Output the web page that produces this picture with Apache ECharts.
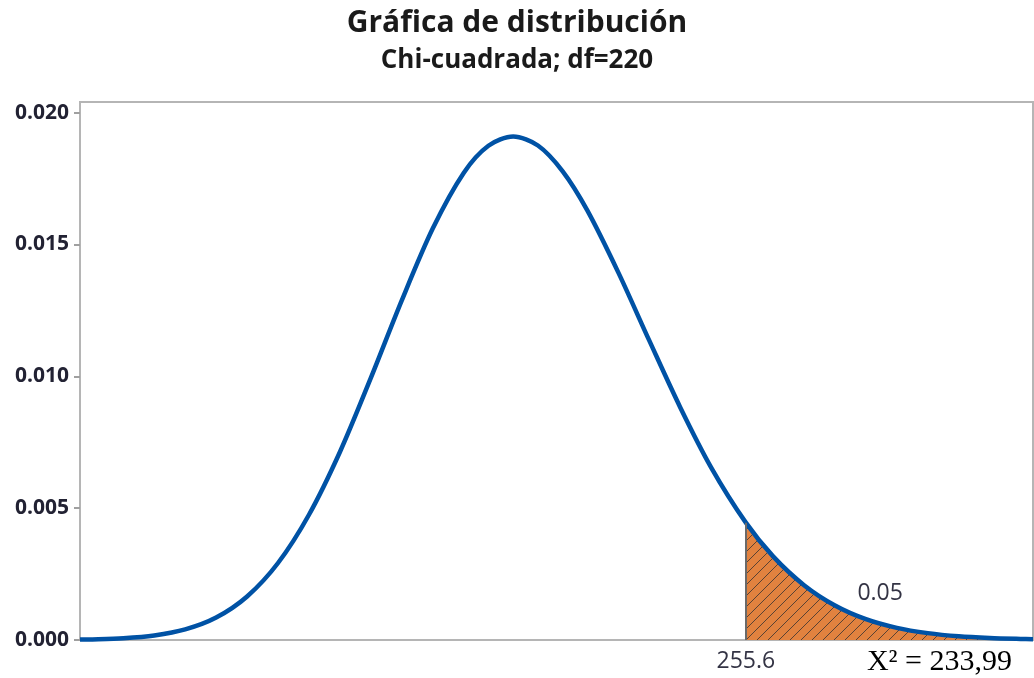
<!DOCTYPE html>
<html lang="es">
<head>
  <meta charset="UTF-8">
  <script src="https://cdn.jsdelivr.net/npm/echarts@6/dist/echarts.min.js"></script>
  <title>Gráfica de distribución</title>
</head>
<body style="margin:0;background:#fff;">
  <div id="main" style="width:1034px;height:678px;"></div>
  <script type="text/javascript">
    // valores (chi-cuadrada, df=220)
    var curveX = [148, 150, 155, 160, 165, 170, 175, 180, 185, 190,
                  195, 200, 205, 210, 214, 218, 222, 226, 230, 235,
                  240, 245, 250, 255.6, 260, 265, 270, 275, 280, 285,
                  290, 295, 300, 302];
    var curveY = [0.000015, 0.000022, 0.000065, 0.00017, 0.00040, 0.00085, 0.00165, 0.00292, 0.00475, 0.00713,
                  0.00994, 0.01288, 0.01560, 0.01771, 0.01874, 0.01909, 0.01875, 0.01777, 0.01628, 0.01393,
                  0.01135, 0.00882, 0.00654, 0.00445, 0.00317, 0.00208, 0.00131, 0.00079, 0.00046, 0.00026,
                  0.00014, 0.000076, 0.000039, 0.00003];
    var critical = 255.6;
    var tailArea = '0.05';
    var yTicks = [0, 0.005, 0.010, 0.015, 0.020];

    var curve = curveX.map(function (x, i) { return [x, curveY[i]]; });
    var tail = curve.filter(function (p) { return p[0] >= critical; });
    var critY = curveY[curveX.indexOf(critical)];

    // trama rayada para la cola
    var pat = document.createElement('canvas');
    pat.width = 11; pat.height = 11;
    var g = pat.getContext('2d');
    g.fillStyle = '#E2823F';
    g.fillRect(0, 0, 11, 11);
    g.strokeStyle = 'rgba(65,55,50,0.85)';
    g.lineWidth = 1;
    g.beginPath();
    g.moveTo(-1, 12); g.lineTo(12, -1);
    g.moveTo(-6, 6); g.lineTo(6, -6);
    g.moveTo(5, 17); g.lineTo(17, 5);
    g.stroke();

    var myChart = echarts.init(document.getElementById('main'));
    var font = "'Segoe UI', 'Open Sans', 'Noto Sans', sans-serif";

    var option = {
      animation: false,
      title: [
        { text: 'Gráfica de distribución', left: 512, top: 3, textAlign: 'center',
          textStyle: { fontFamily: font, fontSize: 30, fontWeight: 'bold', color: '#1a1a1a' } },
        { text: 'Chi-cuadrada; df=220', left: 512, top: 43, textAlign: 'center',
          textStyle: { fontFamily: font, fontSize: 26, fontWeight: 'bold', color: '#1a1a1a' } }
      ],
      grid: { left: 80, top: 102, right: 1, bottom: 38, show: true,
              borderColor: '#b5b5b5', borderWidth: 2, backgroundColor: '#fff' },
      xAxis: {
        type: 'value', min: 148, max: 302,
        splitLine: { show: false },
        axisLine: { show: true, lineStyle: { color: '#b5b5b5', width: 2 } },
        axisTick: { show: false },
        axisLabel: { customValues: [critical], margin: 10,
                     fontFamily: font, fontSize: 23, color: '#333344',
                     formatter: function (v) { return v.toFixed(1); } }
      },
      yAxis: {
        type: 'value', min: 0, max: 0.0204,
        splitLine: { show: false },
        axisLine: { show: true, lineStyle: { color: '#b5b5b5', width: 2 } },
        axisTick: { show: true, customValues: yTicks, length: 6, lineStyle: { color: '#a0a0a0', width: 2 } },
        axisLabel: { customValues: yTicks, margin: 11, fontFamily: font, fontSize: 21,
                     fontWeight: 'bold', color: '#222233',
                     formatter: function (v) { return v.toFixed(3); } }
      },
      series: [
        {
          type: 'line', data: tail, smooth: 0.3, symbol: 'none',
          lineStyle: { width: 0 },
          areaStyle: { color: { image: pat, repeat: 'repeat' }, opacity: 1 },
          markLine: {
            silent: true, symbol: 'none', label: { show: false },
            lineStyle: { color: '#6a6a6a', width: 2, type: 'solid' },
            data: [[{ coord: [critical, 0] }, { coord: [critical, critY] }]]
          },
          markPoint: {
            symbol: 'circle', symbolSize: 0,
            label: { show: true, formatter: tailArea, fontFamily: font, fontSize: 23,
                     color: '#333344', position: 'inside' },
            data: [{ coord: [277.3, 0.00175] }]
          }
        },
        {
          type: 'line', data: curve, smooth: 0.3, symbol: 'none',
          lineStyle: { color: '#0052A5', width: 4.5 }
        }
      ],
      graphic: [
        { type: 'text', right: 22, bottom: 1,
          style: { text: 'X² = 233,99', font: "30px 'Liberation Serif', 'Times New Roman', serif", fill: '#000' } }
      ]
    };
    myChart.setOption(option);
  </script>
</body>
</html>
